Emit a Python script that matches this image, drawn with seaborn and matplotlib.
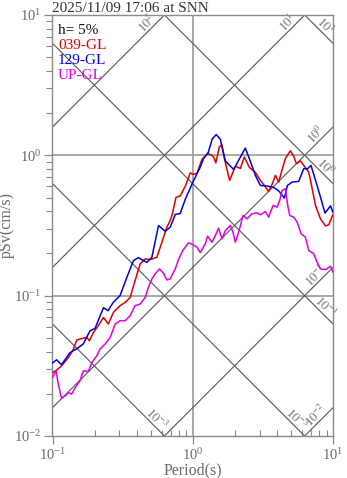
import numpy as np
import pandas as pd
import matplotlib
matplotlib.use("Agg")
import matplotlib.pyplot as plt
import seaborn as sns

sns.set_style("ticks")
plt.rcParams["font.family"] = ["Liberation Serif", "DejaVu Serif"]
plt.rcParams["mathtext.fontset"] = "stix"

title = "2025/11/09 17:06 at SNN"
damping_label = "h= 5%"
series_names = ["039-GL", "129-GL", "UP-GL"]
series_colors = ["#e00000", "#0000e0", "#e000e0"]

# pseudo-velocity response spectra (h = 5%), period in s, pSv in cm/s
period_039 = [0.100, 0.107, 0.116, 0.130, 0.141, 0.149, 0.162, 0.176, 0.183, 0.196,
              0.212, 0.231, 0.250, 0.272, 0.303, 0.330, 0.358, 0.388, 0.422, 0.458,
              0.497, 0.555, 0.619, 0.654, 0.691, 0.714, 0.759, 0.814, 0.884, 0.960,
              1.008, 1.072, 1.163, 1.280, 1.401, 1.460, 1.546, 1.611, 1.679, 1.832,
              2.012, 2.184, 2.333, 2.533, 2.796, 3.035, 3.204, 3.478, 3.698, 3.884,
              4.10, 4.322, 4.578, 4.971, 5.248, 5.486, 5.859, 6.257, 6.716, 7.10,
              7.499, 8.14, 8.84, 9.333, 10.0]
psv_039 = [0.0283, 0.0295, 0.0316, 0.0363, 0.0416, 0.0483, 0.0495, 0.0504, 0.0477, 0.0547,
           0.0611, 0.0700, 0.0628, 0.0760, 0.0848, 0.0896, 0.0972, 0.128, 0.1684, 0.1829,
           0.1808, 0.1877, 0.2609, 0.3075, 0.3434, 0.379, 0.501, 0.514, 0.601, 0.750,
           0.732, 0.744, 0.936, 1.033, 0.984, 0.884, 1.146, 1.189, 0.952, 0.663,
           0.835, 0.807, 0.972, 0.821, 0.756, 0.663, 0.618, 0.553, 0.628, 0.720,
           0.645, 0.781, 0.952, 1.077, 0.984, 0.872, 0.913, 0.835, 0.760, 0.581,
           0.440, 0.353, 0.314, 0.320, 0.379]

period_129 = [0.100, 0.107, 0.116, 0.133, 0.149, 0.166, 0.185, 0.201, 0.231, 0.249,
              0.271, 0.303, 0.339, 0.378, 0.410, 0.445, 0.471, 0.511, 0.570, 0.636,
              0.691, 0.750, 0.814, 0.884, 1.008, 1.131, 1.194, 1.290, 1.378, 1.472,
              1.572, 1.707, 1.802, 1.956, 2.124, 2.371, 2.575, 2.796, 3.035, 3.388,
              3.777, 4.10, 4.504, 4.732, 5.112, 5.697, 6.185, 6.576, 6.965, 7.623,
              8.14, 8.769, 9.597, 10.0]
psv_129 = [0.0332, 0.0349, 0.0322, 0.0392, 0.0418, 0.0454, 0.0562, 0.0584, 0.0821, 0.0782,
           0.0896, 0.100, 0.1351, 0.1778, 0.1868, 0.1778, 0.1729, 0.1877, 0.3162, 0.288,
           0.3075, 0.379, 0.385, 0.485, 0.652, 0.825, 0.947, 1.05, 1.312, 1.406,
           1.301, 0.913, 0.862, 0.794, 0.921, 1.127, 0.906, 0.720, 0.610, 0.605,
           0.591, 0.558, 0.497, 0.610, 0.645, 0.652, 0.804, 0.801, 0.848, 0.631,
           0.504, 0.388, 0.436, 0.392]

period_up = [0.100, 0.106, 0.110, 0.116, 0.123, 0.130, 0.137, 0.145, 0.157, 0.166,
             0.180, 0.191, 0.207, 0.218, 0.237, 0.258, 0.280, 0.303, 0.330, 0.358,
             0.388, 0.422, 0.458, 0.483, 0.511, 0.540, 0.579, 0.619, 0.654, 0.691,
             0.750, 0.792, 0.848, 0.933, 1.000, 1.072, 1.131, 1.228, 1.276, 1.371,
             1.448, 1.529, 1.617, 1.707, 1.853, 1.937, 2.012, 2.124, 2.284, 2.439,
             2.648, 2.875, 3.035, 3.296, 3.478, 3.740, 3.995, 4.169, 4.336, 4.578,
             4.755, 4.914, 5.248, 5.549, 5.927, 6.360, 6.716, 7.294, 7.710, 8.140,
             8.840, 9.597, 10.0]
psv_up = [0.0261, 0.0291, 0.0234, 0.0186, 0.0193, 0.0204, 0.0199, 0.0221, 0.0247, 0.0291,
          0.0288, 0.0334, 0.0373, 0.0416, 0.0452, 0.0504, 0.0628, 0.0663, 0.0663, 0.0720,
          0.0848, 0.0873, 0.0972, 0.1146, 0.1316, 0.1429, 0.1551, 0.1443, 0.1295, 0.1316,
          0.1551, 0.1808, 0.2096, 0.2378, 0.2313, 0.2213, 0.2028, 0.234, 0.2652, 0.2403,
          0.2683, 0.3025, 0.2541, 0.2912, 0.3162, 0.2832, 0.2403, 0.2832, 0.3727, 0.353,
          0.3834, 0.3897, 0.3771, 0.398, 0.3625, 0.440, 0.4273, 0.477, 0.5623, 0.578,
          0.440, 0.3727, 0.3625, 0.334, 0.276, 0.2609, 0.2096, 0.1986, 0.1729, 0.1551,
          0.1534, 0.1619, 0.1467]

# tripartite guide lines: displacement (cm) and acceleration (cm/s^2)
disp_levels = [1e-3, 1e-2, 1e-1, 1e0, 1e1]
disp_labels = ["$10^{-3}$", "$10^{-3}$", "$10^{-1}$", "$10^{0}$", "$10^{1}$"]
acc_levels = [1e-2, 1e-1, 1e0, 1e1, 1e2]
acc_labels = ["$10^{-2}$", "$10^{-1}$", "$10^{0}$", "$10^{1}$", "$10^{2}$"]

T_MIN, T_MAX = 0.1, 10.0
SV_MIN, SV_MAX = 0.01, 10.0

frames = []
for name, per, sv in [(series_names[0], period_039, psv_039),
                      (series_names[1], period_129, psv_129),
                      (series_names[2], period_up, psv_up)]:
    frames.append(pd.DataFrame({"period": per, "psv": sv, "component": name}))
df = pd.concat(frames, ignore_index=True)

W, H = 347, 478
fig = plt.figure(figsize=(W / 100, H / 100), dpi=100)
ax = fig.add_axes([52.5 / W, 1 - 436 / H, 280.5 / W, 421 / H])

ax.set_xscale("log")
ax.set_yscale("log")
ax.set_xlim(T_MIN, T_MAX)
ax.set_ylim(SV_MIN, SV_MAX)

grey = "#8a8a8a"
diag_grey = "#5e5e5e"

# reference grid lines
ax.axvline(1.0, color="#999999", lw=1.2, zorder=1)
for yv in (1.0, 0.1):
    ax.axhline(yv, color="#999999", lw=1.2, zorder=1)

two_pi = 2 * np.pi
T_line = np.array([T_MIN, T_MAX])
for D in disp_levels:
    ax.plot(T_line, two_pi * D / T_line, color=diag_grey, lw=0.85, zorder=1)
for A in acc_levels:
    ax.plot(T_line, A * T_line / two_pi, color=diag_grey, lw=0.85, zorder=1)

# labels at the lower-right end of displacement lines and upper-right end of acceleration lines
back = 0.09
for D, lab in zip(disp_levels, disp_labels):
    sv_end = two_pi * D / T_MAX
    if sv_end >= SV_MIN:
        lt, ls = np.log10(T_MAX), np.log10(sv_end)
    else:
        lt, ls = np.log10(two_pi * D / SV_MIN), np.log10(SV_MIN)
    ax.annotate(lab, xy=(10 ** (lt - back), 10 ** (ls + back)), xytext=(3.2, 3.2),
                textcoords="offset points", rotation=-45, ha="center", va="center",
                fontsize=9, color="#6a6a6a", zorder=2)
for A, lab in zip(acc_levels, acc_labels):
    sv_end = A * T_MAX / two_pi
    if sv_end <= SV_MAX:
        lt, ls = np.log10(T_MAX), np.log10(sv_end)
    else:
        lt, ls = np.log10(two_pi * SV_MAX / A), np.log10(SV_MAX)
    ax.annotate(lab, xy=(10 ** (lt - back), 10 ** (ls - back)), xytext=(-3.2, 3.2),
                textcoords="offset points", rotation=45, ha="center", va="center",
                fontsize=9, color="#6a6a6a", zorder=2)

sns.lineplot(data=df, x="period", y="psv", hue="component", hue_order=series_names,
             palette=series_colors, estimator=None, sort=True, lw=1.1, legend=False,
             ax=ax, zorder=3)

ax.set_xlim(T_MIN, T_MAX)
ax.set_ylim(SV_MIN, SV_MAX)

for sp in ax.spines.values():
    sp.set_visible(True)
    sp.set_color(grey)
    sp.set_linewidth(1.0)

ax.tick_params(axis="both", which="both", colors=grey, labelcolor="#6a6a6a",
               labelsize=10.5)
ax.tick_params(axis="y", which="major", direction="out", length=6, width=0.9, pad=2)
ax.tick_params(axis="y", which="minor", direction="out", length=4, width=0.8)
ax.tick_params(axis="x", which="major", direction="out", length=6, width=0.9, pad=2)
ax.tick_params(axis="x", which="minor", direction="in", length=4, width=0.8)

ax.set_xlabel("Period(s)", fontsize=11.5, color="#6a6a6a")
ax.set_ylabel("pSv(cm/s)", fontsize=11.5, color="#6a6a6a")
ax.xaxis.set_label_coords(0.5, -0.062)
ax.yaxis.set_label_coords(-0.135, 0.5)

ax.set_title(title, loc="left", fontsize=11, color="#333333", pad=2.5)

# legend block
ax.text(0.02, 0.955, damping_label, transform=ax.transAxes, fontsize=11,
        color="#111111", va="baseline", ha="left", zorder=4)
for i, (name, col) in enumerate(zip(series_names, series_colors)):
    ax.text(0.02, 0.919 - i * 0.0357, name, transform=ax.transAxes, fontsize=11,
            color=col, va="baseline", ha="left", zorder=4)

fig.savefig("out.png", dpi=100)
